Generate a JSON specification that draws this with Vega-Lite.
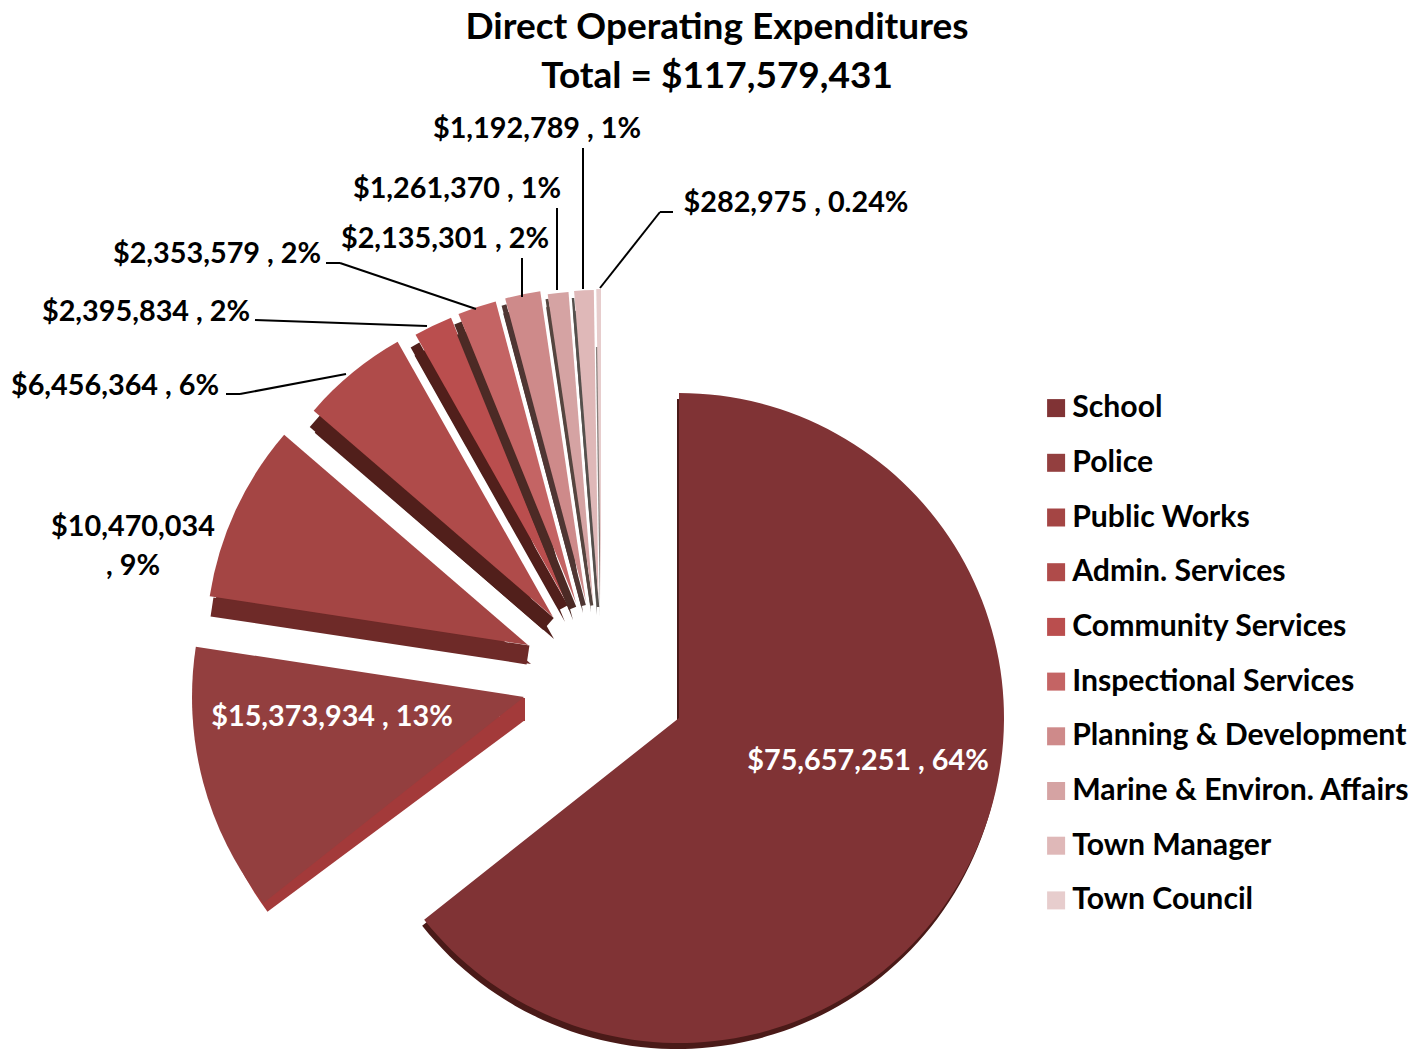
{
"$schema":"https://vega.github.io/schema/vega-lite/v6.json",
"width":1428,"height":1049,"padding":0,"autosize":"none","background":"white",
"title":{"text":["Direct Operating Expenditures","Total = $117,579,431"],"anchor":"middle","frame":"group","offset":-96,"dx":3,"font":"Lato","fontWeight":"bold","fontSize":37,"lineHeight":49,"color":"#000000"},
"config":{"view":{"stroke":null},"axis":{"disable":true},
"text":{"font":"Lato","fontWeight":"bold","fontSize":28.8,"align":"center","baseline":"middle","color":"#000000"},
"rule":{"color":"#000000","strokeWidth":2}},
"data":{"values":[
{"name":"School","amount":75657251,"label":"$75,657,251 , 64%"},
{"name":"Police","amount":15373934,"label":"$15,373,934 , 13%"},
{"name":"Public Works","amount":10470034,"label":"$10,470,034\n, 9%"},
{"name":"Admin. Services","amount":6456364,"label":"$6,456,364 , 6%"},
{"name":"Community Services","amount":2395834,"label":"$2,395,834 , 2%"},
{"name":"Inspectional Services","amount":2353579,"label":"$2,353,579 , 2%"},
{"name":"Planning & Development","amount":2135301,"label":"$2,135,301 , 2%"},
{"name":"Marine & Environ. Affairs","amount":1261370,"label":"$1,261,370 , 1%"},
{"name":"Town Manager","amount":1192789,"label":"$1,192,789 , 1%"},
{"name":"Town Council","amount":282975,"label":"$282,975 , 0.24%"}
]},
"transform":[{"stack":"amount","sort":[{"field":"amount","order":"descending"}],"as":["start","end"]}],
"layer":[
{"transform":[{"filter":"datum.name==='School'"}],"encoding":{"theta":{"field":"start","type":"quantitative","stack":null,"scale":{"domain":[0,117579431]}},"theta2":{"field":"end"}},"layer":[
{"mark":{"type":"arc","outerRadius":325,"color":"#4a1a18"},"encoding":{"x":{"datum":677,"scale":{"domain":[0,1428],"range":[0,1428],"nice":false,"zero":false}},"y":{"datum":724,"scale":{"domain":[0,1049],"range":[0,1049],"nice":false,"zero":false}}}},
{"mark":{"type":"arc","outerRadius":325},"encoding":{"x":{"datum":679},"y":{"datum":718},"color":{"field":"name","type":"nominal","sort":null,"title":null,"scale":{"domain":["School","Police","Public Works","Admin. Services","Community Services","Inspectional Services","Planning & Development","Marine & Environ. Affairs","Town Manager","Town Council"],"range":["#803335","#933f3f","#a44544","#af4b4a","#ba4e4e","#c46464","#ce8a8a","#d5a3a3","#dfb8b8","#e7cdcd"]},"legend":{"orient":"none","legendX":1041,"legendY":393,"symbolType":"square","symbolSize":324,"symbolStrokeWidth":0,"symbolOpacity":1,"labelFont":"Lato","labelFontWeight":"bold","labelFontSize":30.2,"labelColor":"#000000","labelOffset":1,"rowPadding":23.7,"labelLimit":400}}}}
]},
{"transform":[{"filter":"datum.name==='Police'"}],"encoding":{"theta":{"field":"start","type":"quantitative","stack":null},"theta2":{"field":"end"}},"layer":[
{"mark":{"type":"arc","outerRadius":321,"color":"#a33a3a"},"encoding":{"theta":{"datum":76213000,"type":"quantitative"},"x":{"datum":525},"y":{"datum":720}}},
{"mark":{"type":"rule","color":"#a33a3a","strokeWidth":25},"encoding":{"theta":null,"theta2":null,"x":{"datum":512.5},"x2":{"datum":512.5},"y":{"datum":698},"y2":{"datum":721}}},
{"mark":{"type":"arc","outerRadius":332},"encoding":{"x":{"datum":524},"y":{"datum":697},"color":{"field":"name","type":"nominal"}}}
]},
{"transform":[{"filter":"datum.name==='Public Works'"}],"encoding":{"theta":{"field":"start","type":"quantitative","stack":null},"theta2":{"field":"end"}},"layer":[
{"mark":{"type":"arc","outerRadius":322,"color":"#6e2a28"},"encoding":{"x":{"datum":531},"y":{"datum":664}}},
{"mark":{"type":"rule","color":"#6e2a28","strokeWidth":19},"encoding":{"theta":null,"theta2":null,"x":{"datum":528},"x2":{"datum":212},"y":{"datum":655},"y2":{"datum":607}}},
{"mark":{"type":"arc","outerRadius":322},"encoding":{"x":{"datum":528},"y":{"datum":645},"color":{"field":"name","type":"nominal"}}}
]},
{"transform":[{"filter":"datum.name==='Admin. Services'"}],"encoding":{"theta":{"field":"start","type":"quantitative","stack":null},"theta2":{"field":"end"}},"layer":[
{"mark":{"type":"arc","outerRadius":316,"color":"#511f1b"},"encoding":{"x":{"datum":554},"y":{"datum":639}}},
{"mark":{"type":"rule","color":"#511f1b","strokeWidth":16},"encoding":{"theta":null,"theta2":null,"x":{"datum":548.5},"x2":{"datum":315},"y":{"datum":624},"y2":{"datum":421}}},
{"mark":{"type":"arc","outerRadius":316},"encoding":{"x":{"datum":553},"y":{"datum":617},"color":{"field":"name","type":"nominal"}}}
]},
{"transform":[{"filter":"datum.name==='Community Services'"}],"encoding":{"theta":{"field":"start","type":"quantitative","stack":null},"theta2":{"field":"end"}},"layer":[
{"mark":{"type":"arc","outerRadius":306,"color":"#511f1b"},"encoding":{"x":{"datum":565},"y":{"datum":622}}},
{"mark":{"type":"rule","color":"#511f1b","strokeWidth":10},"encoding":{"theta":null,"theta2":null,"x":{"datum":563.5},"x2":{"datum":415},"y":{"datum":607.6},"y2":{"datum":345}}},
{"mark":{"type":"arc","outerRadius":308},"encoding":{"x":{"datum":567},"y":{"datum":603},"color":{"field":"name","type":"nominal"}}}
]},
{"transform":[{"filter":"datum.name==='Inspectional Services'"}],"encoding":{"theta":{"field":"start","type":"quantitative","stack":null},"theta2":{"field":"end"}},"layer":[
{"mark":{"type":"arc","outerRadius":308,"color":"#4c2a25"},"encoding":{"x":{"datum":573},"y":{"datum":620}}},
{"mark":{"type":"rule","color":"#4c2a25","strokeWidth":8},"encoding":{"theta":null,"theta2":null,"x":{"datum":572.5},"x2":{"datum":458},"y":{"datum":608.3},"y2":{"datum":323}}},
{"mark":{"type":"arc","outerRadius":312},"encoding":{"x":{"datum":576},"y":{"datum":603},"color":{"field":"name","type":"nominal"}}}
]},
{"transform":[{"filter":"datum.name==='Planning & Development'"}],"encoding":{"theta":{"field":"start","type":"quantitative","stack":null},"theta2":{"field":"end"}},"layer":[
{"mark":{"type":"arc","outerRadius":310,"color":"#4f3633"},"encoding":{"x":{"datum":583},"y":{"datum":613}}},
{"mark":{"type":"rule","color":"#4f3633","strokeWidth":5},"encoding":{"theta":null,"theta2":null,"x":{"datum":583.4},"x2":{"datum":504},"y":{"datum":605.6},"y2":{"datum":305}}},
{"mark":{"type":"arc","outerRadius":314},"encoding":{"x":{"datum":586},"y":{"datum":602},"color":{"field":"name","type":"nominal"}}}
]},
{"transform":[{"filter":"datum.name==='Marine & Environ. Affairs'"}],"encoding":{"theta":{"field":"start","type":"quantitative","stack":null},"theta2":{"field":"end"}},"layer":[
{"mark":{"type":"arc","outerRadius":308,"color":"#55453f"},"encoding":{"x":{"datum":591},"y":{"datum":612}}},
{"mark":{"type":"rule","color":"#55453f","strokeWidth":3},"encoding":{"theta":null,"theta2":null,"x":{"datum":591.8},"x2":{"datum":547},"y":{"datum":605.5},"y2":{"datum":299}}},
{"mark":{"type":"arc","outerRadius":311},"encoding":{"x":{"datum":593},"y":{"datum":602},"color":{"field":"name","type":"nominal"}}}
]},
{"transform":[{"filter":"datum.name==='Town Manager'"}],"encoding":{"theta":{"field":"start","type":"quantitative","stack":null},"theta2":{"field":"end"}},"layer":[
{"mark":{"type":"arc","outerRadius":305,"color":"#55504c"},"encoding":{"x":{"datum":597},"y":{"datum":615}}},
{"mark":{"type":"rule","color":"#55504c","strokeWidth":2.5},"encoding":{"theta":null,"theta2":null,"x":{"datum":598},"x2":{"datum":573},"y":{"datum":607},"y2":{"datum":298}}},
{"mark":{"type":"arc","outerRadius":310},"encoding":{"x":{"datum":598.5},"y":{"datum":600},"color":{"field":"name","type":"nominal"}}}
]},
{"transform":[{"filter":"datum.name==='Town Council'"}],"encoding":{"theta":{"field":"start","type":"quantitative","stack":null},"theta2":{"field":"end"}},"layer":[
{"mark":{"type":"arc","outerRadius":270,"color":"#88807c"},"encoding":{"x":{"datum":600},"y":{"datum":617}}},
{"mark":{"type":"arc","outerRadius":311},"encoding":{"x":{"datum":601},"y":{"datum":600},"color":{"field":"name","type":"nominal"}}}
]},
{"transform":[{"filter":"datum.name==='School'"}],"mark":{"type":"text","color":"#ffffff"},"encoding":{"text":{"field":"label"},"x":{"datum":868},"y":{"datum":761}}},
{"transform":[{"filter":"datum.name==='Police'"}],"mark":{"type":"text","color":"#ffffff"},"encoding":{"text":{"field":"label"},"x":{"datum":332},"y":{"datum":717}}},
{"transform":[{"filter":"datum.name==='Public Works'"}],"mark":{"type":"text","lineBreak":"\n","lineHeight":39},"encoding":{"text":{"field":"label"},"x":{"datum":133},"y":{"datum":527}}},
{"transform":[{"filter":"datum.name==='Admin. Services'"}],"mark":"text","encoding":{"text":{"field":"label"},"x":{"datum":115},"y":{"datum":386}}},
{"transform":[{"filter":"datum.name==='Community Services'"}],"mark":"text","encoding":{"text":{"field":"label"},"x":{"datum":146},"y":{"datum":312}}},
{"transform":[{"filter":"datum.name==='Inspectional Services'"}],"mark":"text","encoding":{"text":{"field":"label"},"x":{"datum":217},"y":{"datum":254}}},
{"transform":[{"filter":"datum.name==='Planning & Development'"}],"mark":"text","encoding":{"text":{"field":"label"},"x":{"datum":445},"y":{"datum":239}}},
{"transform":[{"filter":"datum.name==='Marine & Environ. Affairs'"}],"mark":"text","encoding":{"text":{"field":"label"},"x":{"datum":457},"y":{"datum":189}}},
{"transform":[{"filter":"datum.name==='Town Manager'"}],"mark":"text","encoding":{"text":{"field":"label"},"x":{"datum":537},"y":{"datum":129}}},
{"transform":[{"filter":"datum.name==='Town Council'"}],"mark":"text","encoding":{"text":{"field":"label"},"x":{"datum":796},"y":{"datum":203}}},
{"transform":[{"filter":"datum.name==='Admin. Services'"}],"mark":"rule","encoding":{"x":{"datum":226},"x2":{"datum":240},"y":{"datum":394},"y2":{"datum":394}}},
{"transform":[{"filter":"datum.name==='Admin. Services'"}],"mark":"rule","encoding":{"x":{"datum":240},"x2":{"datum":346},"y":{"datum":394},"y2":{"datum":374}}},
{"transform":[{"filter":"datum.name==='Community Services'"}],"mark":"rule","encoding":{"x":{"datum":255},"x2":{"datum":427},"y":{"datum":320},"y2":{"datum":326}}},
{"transform":[{"filter":"datum.name==='Inspectional Services'"}],"mark":"rule","encoding":{"x":{"datum":326},"x2":{"datum":340},"y":{"datum":263},"y2":{"datum":263}}},
{"transform":[{"filter":"datum.name==='Inspectional Services'"}],"mark":"rule","encoding":{"x":{"datum":340},"x2":{"datum":476},"y":{"datum":263},"y2":{"datum":309}}},
{"transform":[{"filter":"datum.name==='Planning & Development'"}],"mark":"rule","encoding":{"x":{"datum":522},"x2":{"datum":522},"y":{"datum":258},"y2":{"datum":297}}},
{"transform":[{"filter":"datum.name==='Marine & Environ. Affairs'"}],"mark":"rule","encoding":{"x":{"datum":557},"x2":{"datum":557},"y":{"datum":208},"y2":{"datum":290}}},
{"transform":[{"filter":"datum.name==='Town Manager'"}],"mark":"rule","encoding":{"x":{"datum":583},"x2":{"datum":583},"y":{"datum":148},"y2":{"datum":289}}},
{"transform":[{"filter":"datum.name==='Town Council'"}],"mark":"rule","encoding":{"x":{"datum":600},"x2":{"datum":660},"y":{"datum":288},"y2":{"datum":212}}},
{"transform":[{"filter":"datum.name==='Town Council'"}],"mark":"rule","encoding":{"x":{"datum":660},"x2":{"datum":673},"y":{"datum":212},"y2":{"datum":212}}}
]
}
